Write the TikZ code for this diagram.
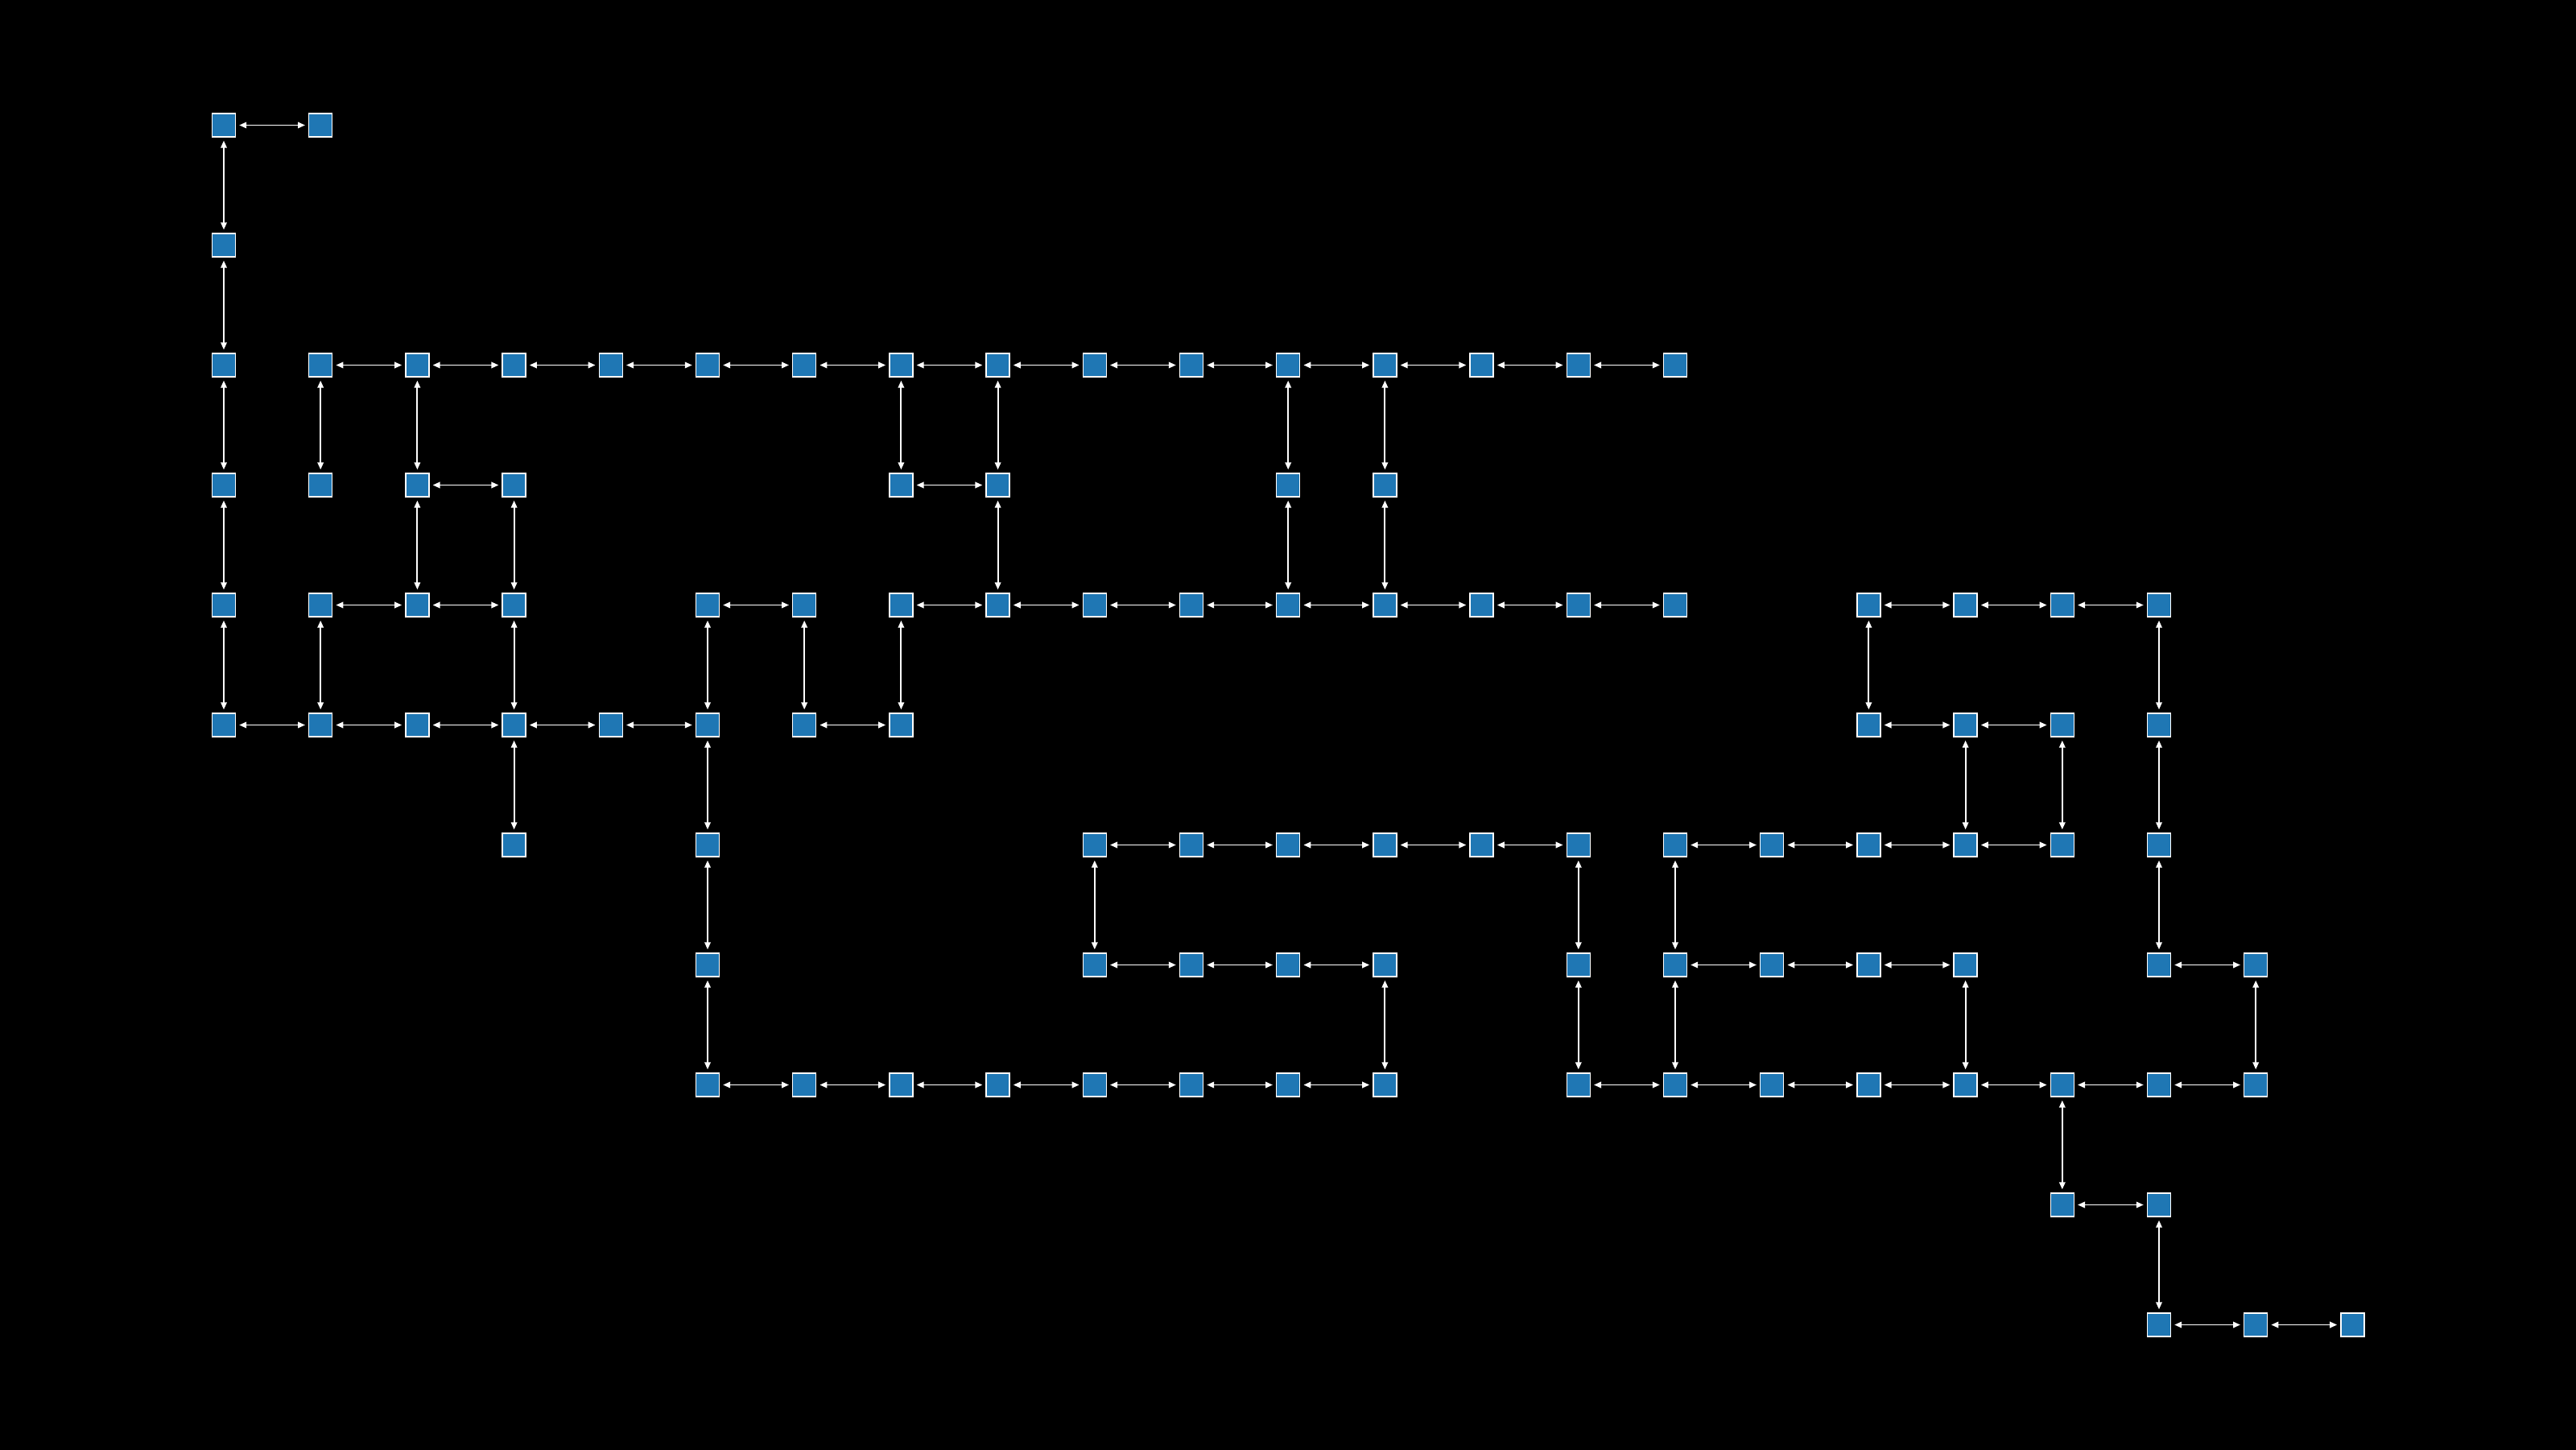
\documentclass[tikz,border=0pt]{standalone}
\usetikzlibrary{arrows.meta}
\definecolor{cellblue}{RGB}{31,119,180}
\tikzset{
  cell/.style={draw=white,line width=0.4pt,fill=cellblue,minimum size=0.29cm,inner sep=0pt},
  link/.style={white,line width=0.55pt,{Triangle[length=0.09cm,width=0.075cm]}-{Triangle[length=0.09cm,width=0.075cm]},shorten >=0.04cm,shorten <=0.04cm}
}
\begin{document}
\begin{tikzpicture}
    \useasboundingbox (0, 0) rectangle (32, 18);
    \fill[black] (-0.5, -0.5) rectangle (32.5, 18.5);

    % cells, row by row
    \foreach \r/\cols in {0/{0,1}, 1/{0}, 2/{0,...,15}, 3/{0,1,2,3,7,8,11,12},
        4/{0,1,2,3,5,6,7,8,9,10,11,12,13,14,15,17,18,19,20},
        5/{0,1,2,3,4,5,6,7,17,18,19,20},
        6/{3,5,9,10,11,12,13,14,15,16,17,18,19,20},
        7/{5,9,10,11,12,14,15,16,17,18,20,21},
        8/{5,6,7,8,9,10,11,12,14,15,16,17,18,19,20,21},
        9/{19,20}, 10/{20,21,22}} {
        \foreach \c in \cols
            \node[cell] (n\r-\c) at ({2.78+1.202*\c}, {16.445-1.49*\r}) {};
    }

    % links along a row
    \foreach \r/\cols in {0/{0}, 2/{1,...,14}, 3/{2,7},
        4/{1,2,5,7,8,9,10,11,12,13,14,17,18,19},
        5/{0,1,2,3,4,6,17,18},
        6/{9,10,11,12,13,15,16,17,18},
        7/{9,10,11,15,16,17,20},
        8/{5,6,7,8,9,10,11,14,15,16,17,18,19,20},
        9/{19}, 10/{20,21}} {
        \foreach \c [evaluate=\c as \d using int(\c+1)] in \cols
            \draw[link] (n\r-\c) -- (n\r-\d);
    }

    % links down a column
    \foreach \r/\cols in {0/{0}, 1/{0}, 2/{0,1,2,7,8,11,12}, 3/{0,2,3,8,11,12},
        4/{0,1,3,5,6,7,17,20}, 5/{3,5,18,19,20}, 6/{5,9,14,15,20},
        7/{5,12,14,15,18,21}, 8/{19}, 9/{20}} {
        \foreach \c [evaluate=\r as \s using int(\r+1)] in \cols
            \draw[link] (n\r-\c) -- (n\s-\c);
    }
\end{tikzpicture}
\end{document}
